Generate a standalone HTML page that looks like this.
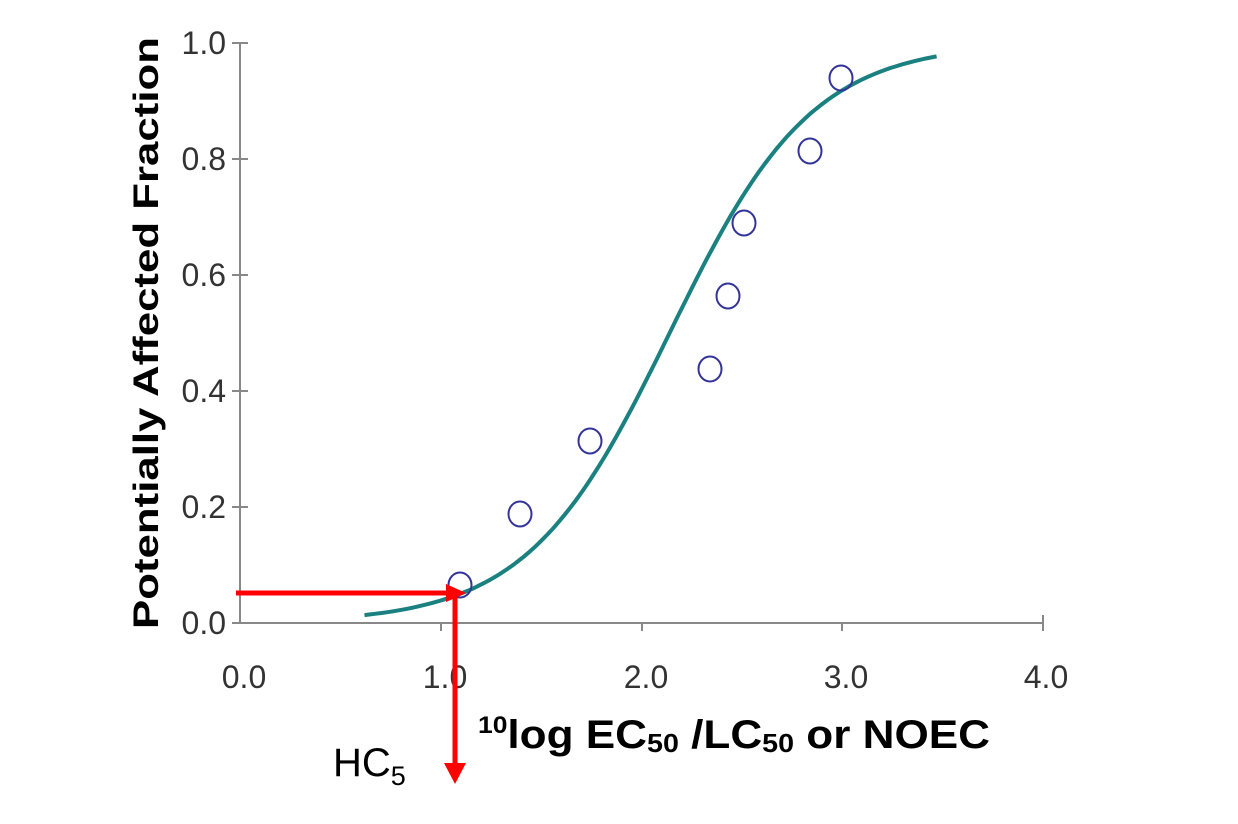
<!DOCTYPE html>
<html><head><meta charset="utf-8"><style>
body{margin:0;background:#fff}
svg{display:block}
</style></head><body>
<svg width="1238" height="824" xmlns="http://www.w3.org/2000/svg" font-family="Liberation Sans, sans-serif">
<g stroke="#888" stroke-width="2">
<line x1="240" y1="43" x2="240" y2="623"/>
<line x1="240" y1="623" x2="1043" y2="623"/>
<line x1="232" y1="43" x2="248" y2="43"/>
<line x1="232" y1="159" x2="248" y2="159"/>
<line x1="232" y1="275" x2="248" y2="275"/>
<line x1="232" y1="391" x2="248" y2="391"/>
<line x1="232" y1="507" x2="248" y2="507"/>
<line x1="232" y1="623" x2="248" y2="623"/>
<line x1="441" y1="623" x2="441" y2="631"/>
<line x1="642" y1="623" x2="642" y2="631"/>
<line x1="842" y1="623" x2="842" y2="631"/>
<line x1="1043" y1="615" x2="1043" y2="631"/>
</g>
<g font-size="32" fill="#333" text-anchor="end">
<text x="226" y="54">1.0</text><text x="226" y="170">0.8</text><text x="226" y="286">0.6</text>
<text x="226" y="402">0.4</text><text x="226" y="518">0.2</text><text x="226" y="634">0.0</text>
</g>
<g font-size="32" fill="#333" text-anchor="middle">
<text x="244" y="688">0.0</text><text x="445" y="688">1.0</text><text x="646" y="688">2.0</text>
<text x="846" y="688">3.0</text><text x="1046" y="688">4.0</text>
</g>
<text x="-333" y="158" transform="rotate(-90)" text-anchor="middle" font-size="35" font-weight="bold" fill="#000" textLength="592" lengthAdjust="spacingAndGlyphs">Potentially Affected Fraction</text>
<path id="c" fill="none" stroke="#1a8080" stroke-width="4" d=""/>
<script>
var p="";for(var i=0;i<=100;i++){var x=0.62+(3.47-0.62)*i/100;var y=1/(1+Math.exp(-(x-2.14)/0.355));p+=(i?"L":"M")+(240+x*200.75).toFixed(1)+" "+(623-y*580).toFixed(1);}
document.getElementById("c").setAttribute("d",p);
</script>
<g fill="none" stroke="#333399" stroke-width="2">
<ellipse cx="460" cy="585" rx="11.5" ry="12.5"/><ellipse cx="520" cy="514" rx="11.5" ry="12.5"/>
<ellipse cx="590" cy="441" rx="11.5" ry="12.5"/><ellipse cx="710" cy="369" rx="11.5" ry="12.5"/>
<ellipse cx="728" cy="296" rx="11.5" ry="12.5"/><ellipse cx="744" cy="223" rx="11.5" ry="12.5"/>
<ellipse cx="810" cy="151" rx="11.5" ry="12.5"/><ellipse cx="841" cy="78" rx="11.5" ry="12.5"/>
</g>
<g stroke="#f00" stroke-width="5" fill="#f00">
<line x1="236" y1="593" x2="448" y2="593"/>
<line x1="455" y1="593" x2="455" y2="765"/>
</g>
<polygon points="446,584 466,593 446,602" fill="#f00"/>
<polygon points="444,763 466,763 455,784" fill="#f00"/>
<text x="333" y="776" font-size="40" fill="#000">HC<tspan font-size="27" dy="9">5</tspan></text>
<text x="478" y="748" font-size="40" font-weight="bold" fill="#000" textLength="512" lengthAdjust="spacingAndGlyphs"><tspan font-size="24" dy="-15">10</tspan><tspan dy="15">log EC</tspan><tspan font-size="26" dy="4">50</tspan><tspan dy="-4"> /LC</tspan><tspan font-size="26" dy="4">50</tspan><tspan dy="-4"> or NOEC</tspan></text>
</svg>
</body></html>
